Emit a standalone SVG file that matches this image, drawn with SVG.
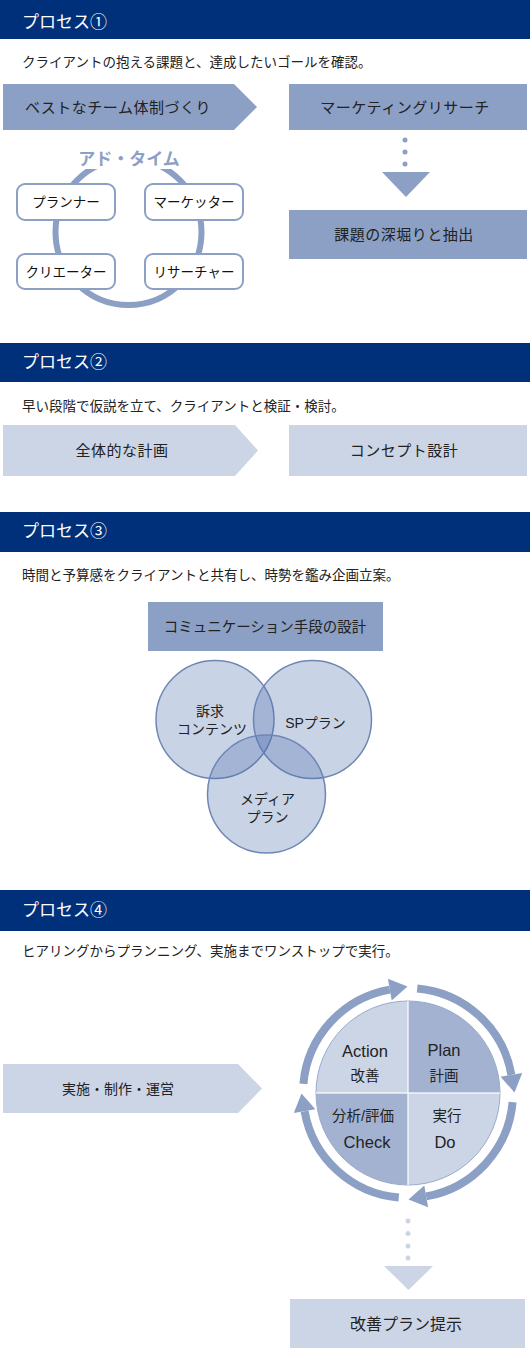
<svg xmlns="http://www.w3.org/2000/svg" width="530" height="1370" viewBox="0 0 530 1370">
<style>
text{font-family:"Liberation Sans","Noto Sans CJK JP",sans-serif;fill:#222}
.hd{fill:#00307a}
.hdt{fill:#fff;font-size:17px}
.sub{font-size:13.5px}
.mid{fill:#8c9fc4}
.lt{fill:#ccd5e6}
.bx{font-size:15px;text-anchor:middle;letter-spacing:0.5px}
.rb{fill:#fff;stroke:#8c9fc4;stroke-width:2}
.rbt{font-size:13.5px;text-anchor:middle;fill:#111}
.venn{fill:#4b6cac;fill-opacity:0.3;stroke:#6f86b5;stroke-width:1.5}
.vt{font-size:14px;text-anchor:middle}
.pd{font-size:14.5px;text-anchor:middle}
.pl{font-size:16.5px;text-anchor:middle}
.ring{fill:none;stroke:#8c9fc4;stroke-width:8}
.ad{font-family:"Noto Sans CJK JP",sans-serif;font-size:17px;font-weight:bold;text-anchor:middle}
</style>

<!-- Process 1 -->
<g id="header1"><rect class="hd" x="0" y="0" width="530" height="39"/><text class="hdt" x="22" y="27.5">プロセス①</text></g>
<text class="sub" x="22" y="67">クライアントの抱える課題と、達成したいゴールを確認。</text>
<g id="team"><polygon class="mid" points="3,84 234,84 257,107 234,130 3,130"/><text class="bx" x="118" y="112.5">ベストなチーム体制づくり</text></g>
<g id="research"><rect class="mid" x="289" y="84" width="238" height="46"/><text class="bx" x="405" y="112.5">マーケティングリサーチ</text></g>
<g id="connectors1">
<circle class="mid" cx="405" cy="140" r="2.5"/><circle class="mid" cx="405" cy="152" r="2.5"/><circle class="mid" cx="405" cy="164" r="2.5"/>
<polygon class="mid" points="382,172 430,172 406,197"/>
</g>
<g id="extract"><rect class="mid" x="289" y="210" width="238" height="49"/><text class="bx" x="404" y="240">課題の深堀りと抽出</text></g>
<g id="adtime">
<circle cx="128.5" cy="232" r="73" fill="none" stroke="#8c9fc4" stroke-width="6"/>
<rect x="79" y="149" width="101" height="20" rx="6" fill="#fff"/>
<text class="ad" x="129" y="165" style="fill:#fff;stroke:#fff;stroke-width:5;stroke-linejoin:round">アド・タイム</text>
<text class="ad" x="129" y="165" style="fill:#8c9fc4">アド・タイム</text>
</g>
<g id="planner"><rect class="rb" x="17" y="184" width="98" height="36" rx="8"/><text class="rbt" x="66" y="207">プランナー</text></g>
<g id="marketer"><rect class="rb" x="145" y="184" width="98" height="36" rx="8"/><text class="rbt" x="194" y="207">マーケッター</text></g>
<g id="creator"><rect class="rb" x="17" y="254" width="98" height="35" rx="8"/><text class="rbt" x="66" y="276.5">クリエーター</text></g>
<g id="researcher"><rect class="rb" x="145" y="254" width="98" height="35" rx="8"/><text class="rbt" x="194" y="276.5">リサーチャー</text></g>

<!-- Process 2 -->
<g id="header2"><rect class="hd" x="0" y="343" width="530" height="39"/><text class="hdt" x="22" y="368">プロセス②</text></g>
<text class="sub" x="22" y="411">早い段階で仮説を立て、クライアントと検証・検討。</text>
<g id="overall"><polygon class="lt" points="3,425 235,425 258,450.5 235,476 3,476"/><text class="bx" x="122" y="456">全体的な計画</text></g>
<g id="concept"><rect class="lt" x="289" y="425" width="238" height="51"/><text class="bx" x="404" y="456">コンセプト設計</text></g>

<!-- Process 3 -->
<g id="header3"><rect class="hd" x="0" y="512" width="530" height="40"/><text class="hdt" x="22" y="537">プロセス③</text></g>
<text class="sub" x="22" y="580">時間と予算感をクライアントと共有し、時勢を鑑み企画立案。</text>
<g id="comm"><rect class="mid" x="148" y="602" width="235" height="49"/><text x="265" y="632" font-size="14.5" text-anchor="middle">コミュニケーション手段の設計</text></g>
<g id="venn">
<circle class="venn" cx="215" cy="719.5" r="59"/>
<circle class="venn" cx="312.5" cy="719.5" r="59"/>
<circle class="venn" cx="266.5" cy="794" r="59"/>
</g>
<g id="appeal"><text class="vt" x="210" y="716">訴求</text><text class="vt" x="212" y="734">コンテンツ</text></g>
<g id="sp"><text class="vt" x="315.5" y="728">SPプラン</text></g>
<g id="media"><text class="vt" x="267.5" y="803.5">メディア</text><text class="vt" x="267.5" y="821.5">プラン</text></g>

<!-- Process 4 -->
<g id="header4"><rect class="hd" x="0" y="890" width="530" height="41"/><text class="hdt" x="22" y="916">プロセス④</text></g>
<text class="sub" x="22" y="956">ヒアリングからプランニング、実施までワンストップで実行。</text>
<g id="execute"><polygon class="lt" points="3,1064 238,1064 262,1088.5 238,1113 3,1113"/><text x="118" y="1094" font-size="14" text-anchor="middle">実施・制作・運営</text></g>
<g id="pdca">
<path d="M408,1093 L316,1093 A92,92 0 0 1 408,1001 Z" fill="#ccd5e6"/>
<path d="M408,1093 L408,1001 A92,92 0 0 1 500,1093 Z" fill="#a2b2d0"/>
<path d="M408,1093 L500,1093 A92,92 0 0 1 408,1185 Z" fill="#ccd5e6"/>
<path d="M408,1093 L408,1185 A92,92 0 0 1 316,1093 Z" fill="#a2b2d0"/>
<circle cx="408" cy="1093" r="92" fill="none" stroke="#9aabcb" stroke-width="1"/>
<path d="M316,1093 H500 M408,1001 V1185" stroke="#fff" stroke-width="1.5" opacity="0.8"/>
<text class="pl" x="365" y="1057">Action</text><text class="pd" x="365" y="1081">改善</text>
<text class="pl" x="444" y="1056">Plan</text><text class="pd" x="444" y="1081">計画</text>
<text class="pd" x="363" y="1120.5">分析/評価</text><text class="pl" x="367" y="1148">Check</text>
<text class="pd" x="447" y="1120.5">実行</text><text class="pl" x="445" y="1148">Do</text>
</g>
<g id="cycle">
<defs>
<g id="arcArrow">
<path class="ring" d="M417.2,988.4 A105,105 0 0 1 511.4,1074.8"/>
<polygon fill="#8c9fc4" points="522.2,1072.9 500.6,1076.7 514.5,1092.5"/>
</g>
</defs>
<use href="#arcArrow"/>
<use href="#arcArrow" transform="rotate(90 408 1093)"/>
<use href="#arcArrow" transform="rotate(180 408 1093)"/>
<use href="#arcArrow" transform="rotate(270 408 1093)"/>
</g>
<g id="connectors4">
<circle class="lt" cx="408" cy="1221" r="2.5"/><circle class="lt" cx="408" cy="1233.5" r="2.5"/><circle class="lt" cx="408" cy="1246" r="2.5"/><circle class="lt" cx="408" cy="1258" r="2.5"/>
<polygon class="lt" points="384,1266 433,1266 408.5,1290"/>
</g>
<g id="proposal"><rect class="lt" x="290" y="1299" width="235" height="49"/><text x="406" y="1330" font-size="16" text-anchor="middle">改善プラン提示</text></g>
</svg>
